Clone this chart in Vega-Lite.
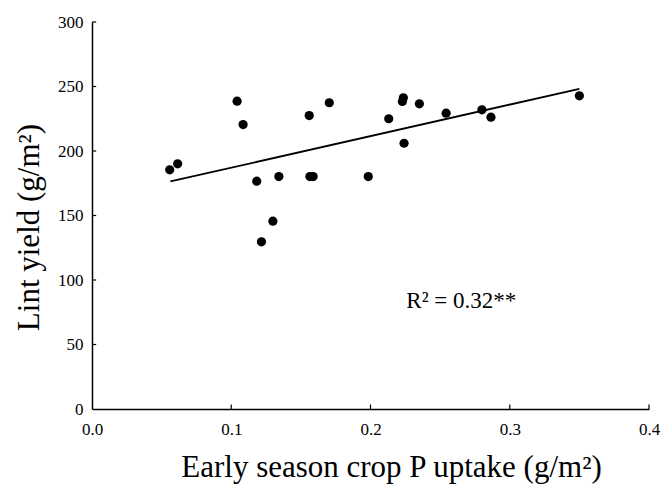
{
  "$schema": "https://vega.github.io/schema/vega-lite/v6.json",
  "width": 557,
  "height": 387,
  "autosize": {"type": "none"},
  "padding": {"left": 92, "top": 22, "right": 13, "bottom": 83},
  "background": "white",
  "config": {
    "view": {"stroke": null},
    "font": "Liberation Serif",
    "axis": {
      "domainColor": "black",
      "domainWidth": 1.5,
      "ticks": false,
      "grid": false,
      "labelFlush": false,
      "labelOverlap": false,
      "labelColor": "black",
      "labelFont": "Liberation Serif",
      "labelFontSize": 17,
      "titleFont": "Liberation Serif",
      "titleFontSize": 31,
      "titleFontWeight": "normal",
      "titleColor": "black"
    }
  },
  "datasets": {
    "pts": [
      {"x": 0.0558, "y": 185.4},
      {"x": 0.0615, "y": 190.1},
      {"x": 0.1042, "y": 238.6},
      {"x": 0.1085, "y": 220.5},
      {"x": 0.1183, "y": 176.6},
      {"x": 0.1217, "y": 129.6},
      {"x": 0.1299, "y": 145.6},
      {"x": 0.1342, "y": 180.2},
      {"x": 0.156, "y": 227.5},
      {"x": 0.1565, "y": 180.2},
      {"x": 0.1588, "y": 180.2},
      {"x": 0.1704, "y": 237.4},
      {"x": 0.1984, "y": 180.2},
      {"x": 0.2131, "y": 225.0},
      {"x": 0.2229, "y": 238.4},
      {"x": 0.2236, "y": 241.2},
      {"x": 0.2241, "y": 206.0},
      {"x": 0.2351, "y": 236.6},
      {"x": 0.2543, "y": 229.3},
      {"x": 0.28, "y": 231.9},
      {"x": 0.2865, "y": 226.2},
      {"x": 0.35, "y": 242.8}
    ],
    "fit": [
      {"x": 0.0563, "y": 176.4},
      {"x": 0.35, "y": 248.2}
    ],
    "xticks": [
      {"v": 0.1}, {"v": 0.2}, {"v": 0.3}, {"v": 0.4}
    ],
    "yticks": [
      {"v": 50}, {"v": 100}, {"v": 150}, {"v": 200}, {"v": 250}, {"v": 300}
    ],
    "note": [
      {"x": 0.2257, "y": 84, "label": "R² = 0.32**"}
    ]
  },
  "layer": [
    {
      "data": {"name": "fit"},
      "mark": {"type": "line", "color": "black", "strokeWidth": 1.8},
      "encoding": {
        "x": {
          "field": "x", "type": "quantitative",
          "scale": {"domain": [0, 0.4], "nice": false},
          "axis": {
            "values": [0, 0.1, 0.2, 0.3, 0.4], "format": ".1f",
            "labelPadding": 12,
            "title": "Early season crop P uptake (g/m²)",
            "titleX": 299, "titleY": 58, "titleBaseline": "middle", "titleAlign": "center"
          }
        },
        "y": {
          "field": "y", "type": "quantitative",
          "scale": {"domain": [0, 300], "nice": false},
          "axis": {
            "values": [0, 50, 100, 150, 200, 250, 300], "format": "d",
            "labelPadding": 9,
            "title": "Lint yield (g/m²)",
            "titleX": -63, "titleY": 205, "titleBaseline": "middle", "titleAlign": "center", "titleAngle": -90
          }
        }
      }
    },
    {
      "data": {"name": "xticks"},
      "mark": {"type": "rule", "color": "black", "strokeWidth": 1.2},
      "encoding": {
        "x": {"field": "v", "type": "quantitative"},
        "y": {"datum": 0, "type": "quantitative"},
        "y2": {"datum": 3.5}
      }
    },
    {
      "data": {"name": "yticks"},
      "mark": {"type": "rule", "color": "black", "strokeWidth": 1.2},
      "encoding": {
        "y": {"field": "v", "type": "quantitative"},
        "x": {"datum": 0, "type": "quantitative"},
        "x2": {"datum": 0.003}
      }
    },
    {
      "data": {"name": "pts"},
      "mark": {"type": "circle", "color": "black", "opacity": 1, "size": 85},
      "encoding": {
        "x": {"field": "x", "type": "quantitative"},
        "y": {"field": "y", "type": "quantitative"}
      }
    },
    {
      "data": {"name": "note"},
      "mark": {"type": "text", "align": "left", "baseline": "middle", "fontSize": 23, "font": "Liberation Serif", "color": "black"},
      "encoding": {
        "x": {"field": "x", "type": "quantitative"},
        "y": {"field": "y", "type": "quantitative"},
        "text": {"field": "label"}
      }
    }
  ]
}
